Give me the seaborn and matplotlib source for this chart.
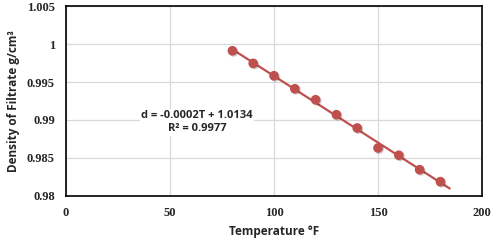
import numpy as np
import pandas as pd
import seaborn as sns
import matplotlib.pyplot as plt
import matplotlib.patheffects as pe

temp = [80, 90, 100, 110, 120, 130, 140, 150, 160, 170, 180]
density = [0.99912, 0.99746, 0.99583, 0.99412, 0.99267, 0.99070,
           0.98895, 0.98632, 0.98536, 0.98346, 0.98188]
x_ticks = [0, 50, 100, 150, 200]
y_ticks = [0.98, 0.985, 0.99, 0.995, 1.0, 1.005]
y_labels = ['0.98', '0.985', '0.99', '0.995', '1', '1.005']

df = pd.DataFrame({'T': temp, 'd': density})
red = '#C0504D'

sns.set_style('white')
fig = plt.figure(figsize=(5, 2.44), dpi=100)
ax = fig.add_axes([0.132, 0.197, 0.832, 0.778])

# linear trendline, extended a bit past the last point
m, b = np.polyfit(df['T'], df['d'], 1)
tx = np.array([80, 184.5])
trend = pd.DataFrame({'T': tx, 'd': m * tx + b})
sns.lineplot(data=trend, x='T', y='d', color=red, lw=1.6, ax=ax, zorder=3)

shadow = [pe.SimplePatchShadow(offset=(0.8, -0.8), alpha=0.25), pe.Normal()]
sns.scatterplot(data=df, x='T', y='d', color=red, s=48, edgecolor=red,
                linewidth=0, ax=ax, zorder=4, path_effects=shadow)

ax.set_xlim(0, 200)
ax.set_ylim(0.98, 1.005)
ax.set_xticks(x_ticks)
ax.set_yticks(y_ticks)
ax.set_yticklabels(y_labels)
ax.grid(True, color='#D9D9D9', lw=0.9)
ax.set_axisbelow(True)
for s in ax.spines.values():
    s.set_color('black')
    s.set_linewidth(1.2)
ax.tick_params(length=0, pad=8)
for lab in ax.get_xticklabels() + ax.get_yticklabels():
    lab.set_family('Liberation Serif')
    lab.set_fontweight('bold')
    lab.set_fontsize(9)

ax.set_xlabel('Temperature °F', family='Open Sans', fontweight='bold',
              fontsize=8.5, labelpad=4)
ax.set_ylabel('Density of Filtrate g/cm³', family='Open Sans',
              fontweight='bold', fontsize=8.5, labelpad=5)

ax.text(63, 0.98968, 'd = -0.0002T + 1.0134\nR² = 0.9977', ha='center',
        va='center', family='Open Sans', fontweight='bold', fontsize=8,
        linespacing=1.25, multialignment='center',
        bbox=dict(facecolor='white', edgecolor='none', pad=1))

fig.savefig('out.png', dpi=100)
